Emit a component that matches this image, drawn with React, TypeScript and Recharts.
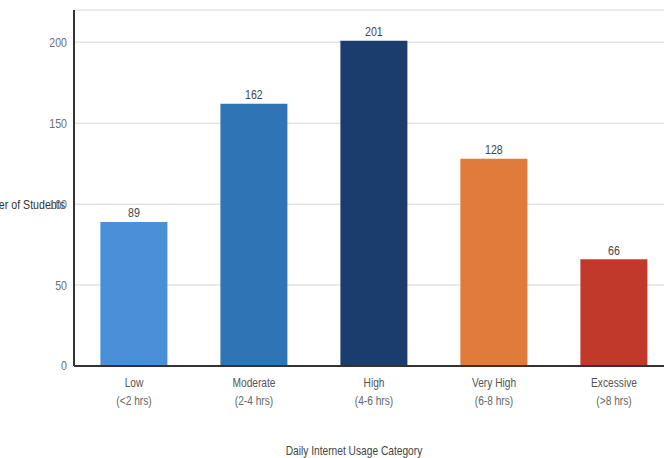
import React from 'react';
import { BarChart, Bar, XAxis, YAxis, CartesianGrid, Cell, LabelList } from 'recharts';

const categories = ['Low', 'Moderate', 'High', 'Very High', 'Excessive'];
const ranges = ['(<2 hrs)', '(2-4 hrs)', '(4-6 hrs)', '(6-8 hrs)', '(>8 hrs)'];
const students = [89, 162, 201, 128, 66];
const colors = ['#4a90d9', '#2e75b6', '#1a3d6d', '#e07b39', '#c0392b'];
const yTicks = [0, 50, 100, 150, 200];

const data = categories.map((c, i) => ({ name: c, value: students[i] }));

const FONT = '"Liberation Sans", Arial, sans-serif';
const SX = 0.85;

const NText = ({ x, y, anchor = 'middle', size = 12, fill = '#555', children }: any) => (
  <text
    transform={`translate(${x},${y}) scale(${SX},1)`}
    x={0}
    y={0}
    dy="0.355em"
    textAnchor={anchor}
    fontSize={size}
    fontFamily={FONT}
    fill={fill}
  >
    {children}
  </text>
);

const CatTick = (props: any) => {
  const { x, y, payload } = props;
  const idx = categories.indexOf(payload.value);
  return (
    <g>
      <NText x={x} y={y + 9} fill="#555">{payload.value}</NText>
      <NText x={x} y={y + 27} fill="#666">{ranges[idx]}</NText>
    </g>
  );
};

const NumTick = (props: any) => {
  const { x, y, payload } = props;
  return <NText x={x + 1} y={y} anchor="end" fill="#6e6e6e" size={12.5}>{payload.value}</NText>;
};

const YTitle = (props: any) => {
  const vb = props.viewBox || {};
  return (
    <NText x={vb.x + vb.width - 9} y={vb.y + vb.height / 2 + 17} anchor="end" fill="#333" size={12.5}>
      Number of Students
    </NText>
  );
};

const XTitle = (props: any) => {
  const vb = props.viewBox || {};
  return (
    <NText x={vb.x + vb.width / 2 - 20} y={vb.y + 85} fill="#444" size={12}>
      Daily Internet Usage Category
    </NText>
  );
};

const BarValue = (props: any) => {
  const { x, y, width, value } = props;
  return <NText x={x + width / 2} y={y - 9} fill="#444" size={12.5}>{value}</NText>;
};

export default function App() {
  return (
    <div style={{ width: 664, height: 458, overflow: 'hidden', position: 'relative' }}>
      <style>{'body{margin:0}'}</style>
      <BarChart
        width={680}
        height={458}
        data={data}
        margin={{ top: 10, right: 6, bottom: 2, left: 0 }}
        barCategoryGap="22%"
      >
        <CartesianGrid vertical={false} stroke="#e3e3e3" strokeWidth={1.5} />
        <XAxis
          dataKey="name"
          height={90}
          tick={<CatTick />}
          tickLine={false}
          axisLine={{ stroke: '#333', strokeWidth: 2 }}
          interval={0}
          label={<XTitle />}
        />
        <YAxis
          width={74}
          domain={[0, 220]}
          ticks={yTicks}
          tickLine={false}
          axisLine={{ stroke: '#333', strokeWidth: 2 }}
          tick={<NumTick />}
          label={<YTitle />}
        />
        <Bar dataKey="value" isAnimationActive={false}>
          {data.map((d, i) => (
            <Cell key={d.name} fill={colors[i]} />
          ))}
          <LabelList dataKey="value" content={<BarValue />} />
        </Bar>
      </BarChart>
    </div>
  );
}
